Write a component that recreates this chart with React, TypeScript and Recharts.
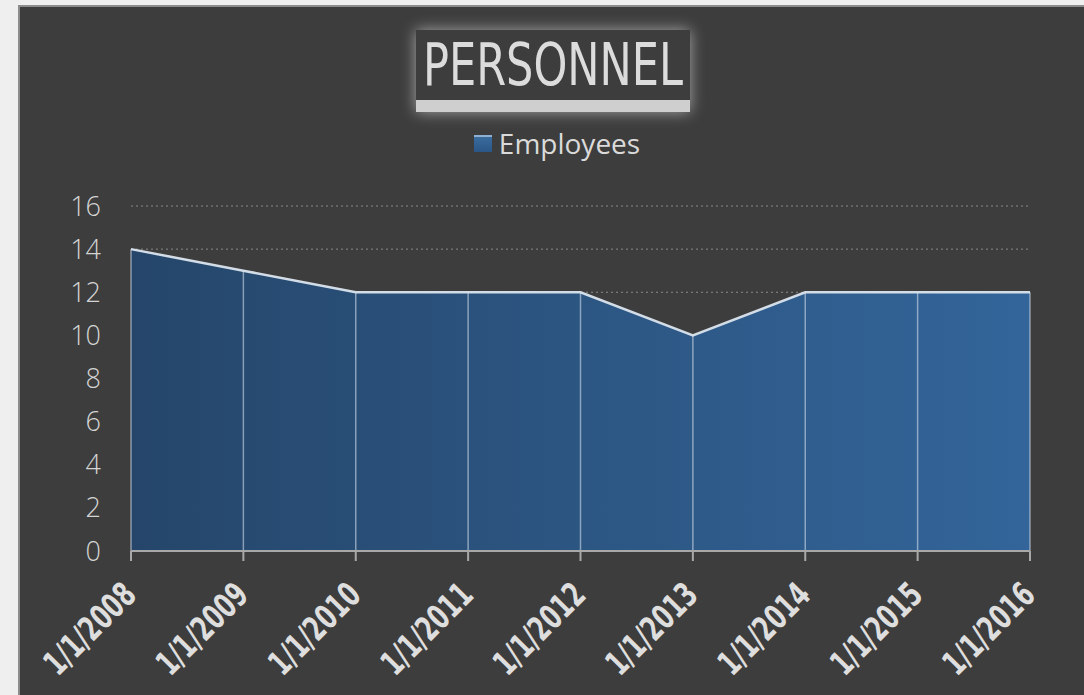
import React from "react";
import {
  AreaChart,
  Area,
  XAxis,
  YAxis,
  CartesianGrid,
  ReferenceLine,
  Legend,
} from "recharts";

const categories = [
  "1/1/2008",
  "1/1/2009",
  "1/1/2010",
  "1/1/2011",
  "1/1/2012",
  "1/1/2013",
  "1/1/2014",
  "1/1/2015",
  "1/1/2016",
];
const employees = [14, 13, 12, 12, 12, 10, 12, 12, 12];
const yTicks = [0, 2, 4, 6, 8, 10, 12, 14, 16];

const data = categories.map((date, i) => ({ date, Employees: employees[i] }));

// no condensed font installed, so squeeze the text along its baseline
const DateTick = (props) => {
  const { x, y, payload } = props;
  return (
    <g transform={`translate(${x + 7},${y + 32}) rotate(-45) scale(0.68,1)`}>
      <text
        x={0}
        y={0}
        textAnchor="end"
        fill="#dedede"
        fontFamily="'DejaVu Sans', sans-serif"
        fontWeight="bold"
        fontSize={34}
      >
        {payload.value}
      </text>
    </g>
  );
};

const LegendContent = () => (
  <div
    style={{
      display: "flex",
      justifyContent: "center",
      alignItems: "center",
      fontFamily: "'Open Sans', sans-serif",
      fontSize: 28,
      color: "#dadada",
      paddingLeft: 30,
    }}
  >
    <span
      style={{
        display: "inline-block",
        width: 18,
        height: 17,
        marginRight: 7,
        background: "linear-gradient(#8fb0d0 0 2px, #3a6c9e 2px, #2a5686)",
      }}
    />
    <span>Employees</span>
  </div>
);

export default function App() {
  return (
    <div
      style={{
        position: "absolute",
        left: 0,
        top: 0,
        width: 1084,
        height: 695,
        background: "#efefef",
        overflow: "hidden",
      }}
    >
      <div
        style={{
          position: "absolute",
          left: 18,
          top: 5,
          width: 1066,
          height: 690,
          background: "#3d3d3d",
          borderTop: "2px solid #8c8c8c",
          borderLeft: "2px solid #8c8c8c",
          boxSizing: "border-box",
        }}
      />
      <div
        style={{
          position: "absolute",
          left: 416,
          top: 30,
          width: 274,
          height: 70,
          background: "#3d3d3d",
          borderBottom: "12px solid #cfcfcf",
          boxShadow: "0 0 14px rgba(255,255,255,0.55)",
          color: "#dcdcdc",
          fontFamily: "'DejaVu Sans', sans-serif",
          fontSize: 59,
          lineHeight: "70px",
          whiteSpace: "nowrap",
        }}
      >
        <span
          style={{
            position: "absolute",
            left: "50%",
            top: 0,
            transform: "translateX(-50%) scaleX(0.73)",
          }}
        >
          PERSONNEL
        </span>
      </div>
      <div style={{ position: "absolute", left: 0, top: 0 }}>
        <AreaChart
          width={1084}
          height={695}
          data={data}
          margin={{ top: 168, right: 54, bottom: 44, left: 71 }}
        >
          <defs>
            <linearGradient id="empFill" x1="0" y1="0" x2="1" y2="0">
              <stop offset="0%" stopColor="#25466a" />
              <stop offset="100%" stopColor="#33659a" />
            </linearGradient>
          </defs>
          <CartesianGrid
            vertical={false}
            stroke="#8a8a8a"
            strokeDasharray="2 3"
          />
          <XAxis
            dataKey="date"
            height={100}
            interval={0}
            stroke="#a8a8a8"
            axisLine={{ stroke: "#a8a8a8", strokeWidth: 2 }}
            tickLine={{ stroke: "#a8a8a8", strokeWidth: 2 }}
            tickSize={10}
            tickMargin={4}
            tick={<DateTick />}
          />
          <YAxis
            width={60}
            domain={[0, 16]}
            ticks={yTicks}
            axisLine={false}
            tickLine={false}
            tickSize={0}
            tickMargin={30}
            tick={{
              fill: "#d4d4d4",
              fontSize: 27,
              fontFamily: "'Open Sans', sans-serif",
              fontWeight: 300,
            }}
          />
          <Legend
            verticalAlign="top"
            content={<LegendContent />}
            wrapperStyle={{ position: "absolute", top: 124, left: 0, width: 1084 }}
          />
          <Area
            type="linear"
            dataKey="Employees"
            fill="url(#empFill)"
            fillOpacity={1}
            stroke="#d3dde8"
            strokeWidth={2.5}
            dot={false}
            activeDot={false}
            isAnimationActive={false}
          />
          {data.map((d) => (
            <ReferenceLine
              key={d.date}
              segment={[
                { x: d.date, y: 0 },
                { x: d.date, y: d.Employees },
              ]}
              stroke="rgba(220,230,240,0.55)"
              strokeWidth={1.5}
            />
          ))}
        </AreaChart>
      </div>
    </div>
  );
}
